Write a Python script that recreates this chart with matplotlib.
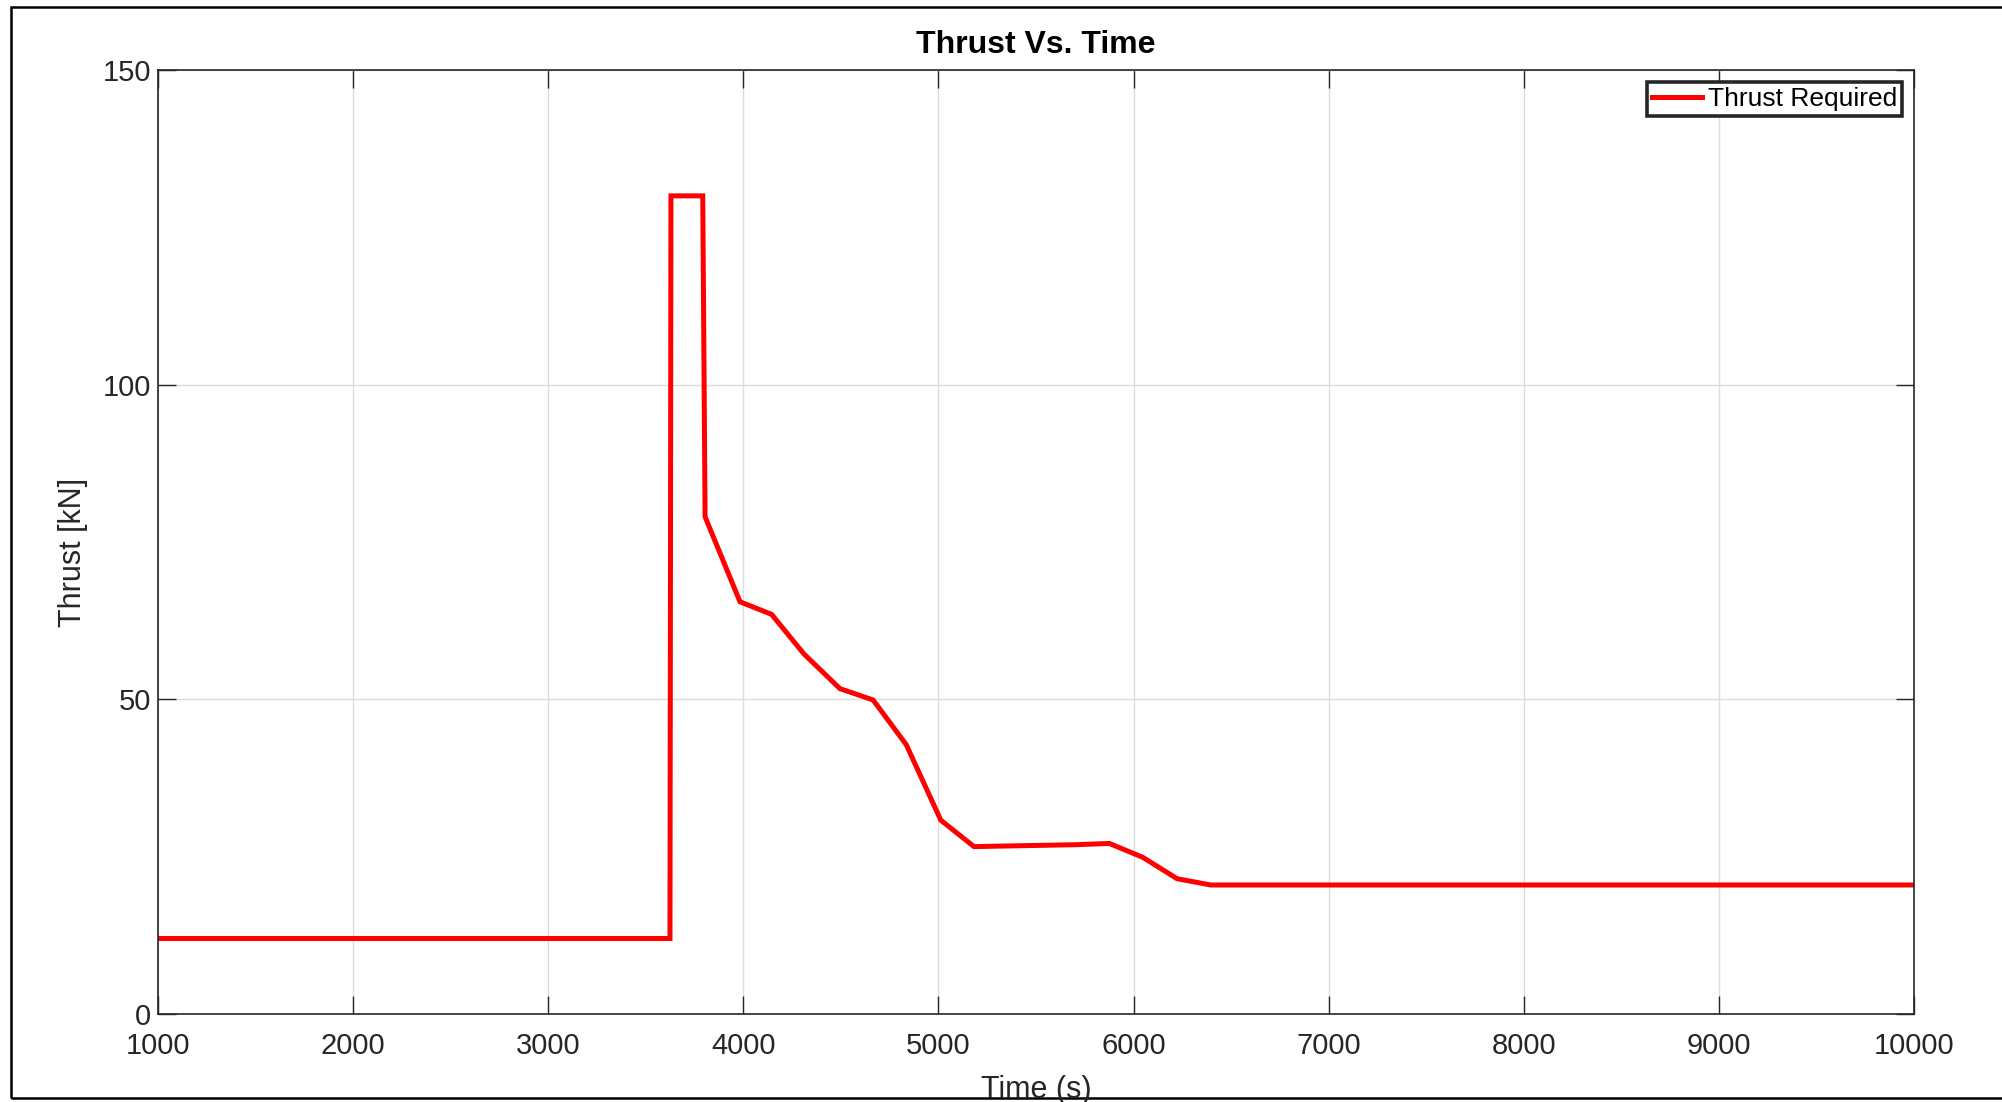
import matplotlib
matplotlib.use('Agg')
import matplotlib.pyplot as plt
from matplotlib.patches import Rectangle

# 推力随时间变化数据
time_s = [1000, 3624, 3629, 3792, 3804, 3983, 4145, 4311, 4495, 4665,
          4835, 5012, 5182, 5700, 5876, 6047, 6223, 6395, 10000]
thrust_kn = [12.0, 12.0, 130.0, 130.0, 79.0, 65.5, 63.5, 57.2, 51.7, 49.9,
             42.8, 30.8, 26.6, 26.9, 27.1, 24.9, 21.5, 20.5, 20.5]

x_ticks = [1000, 2000, 3000, 4000, 5000, 6000, 7000, 8000, 9000, 10000]
y_ticks = [0, 50, 100, 150]

plt.rcParams['font.family'] = ['Liberation Sans', 'DejaVu Sans']
dark = '#262626'

W, H = 2002, 1102
fig = plt.figure(figsize=(W / 100, H / 100), dpi=100)
fig.patch.set_facecolor('white')

# 坐标区位置（像素换算）
left, right, top, bottom = 158, 1914, 70, 1014
ax = fig.add_axes([left / W, 1 - bottom / H, (right - left) / W, (bottom - top) / H])

ax.plot(time_s, thrust_kn, color='#ff0000', linewidth=3.6, label='Thrust Required',
        solid_joinstyle='miter')

ax.set_xlim(1000, 10000)
ax.set_ylim(0, 150)
ax.set_xticks(x_ticks)
ax.set_yticks(y_ticks)
ax.grid(True, color='#dcdcdc', linewidth=1)
ax.set_axisbelow(True)
ax.tick_params(direction='in', length=13, width=1, colors=dark, labelsize=21,
               top=True, right=True)
ax.tick_params(axis='x', pad=13)
ax.tick_params(axis='y', pad=5)
for s in ax.spines.values():
    s.set_color(dark)
    s.set_linewidth(1.2)

leg = ax.legend(loc='upper right', fontsize=19, fancybox=False, framealpha=1,
                borderaxespad=0.45, handlelength=1.9, handletextpad=0.2,
                borderpad=0.2)
leg.get_frame().set_edgecolor(dark)
leg.get_frame().set_linewidth(2.6)

cx = (left + right) / 2 / W
fig.text(cx, 1 - 45 / H, 'Thrust Vs. Time', ha='center', va='center',
         fontsize=23, fontweight='bold', color='black')
fig.text(cx, 1 - 1090 / H, 'Time (s)', ha='center', va='center',
         fontsize=22, color=dark)
fig.text(73 / W, 1 - 552 / H, 'Thrust [kN]', ha='center', va='center',
         rotation=90, fontsize=22, color=dark)

# 外边框
fig.add_artist(Rectangle((11 / W, 4 / H), 1.0, (1098 - 7) / H, transform=fig.transFigure,
                         fill=False, edgecolor='black', linewidth=1.8))

fig.savefig('out.png', dpi=100)
